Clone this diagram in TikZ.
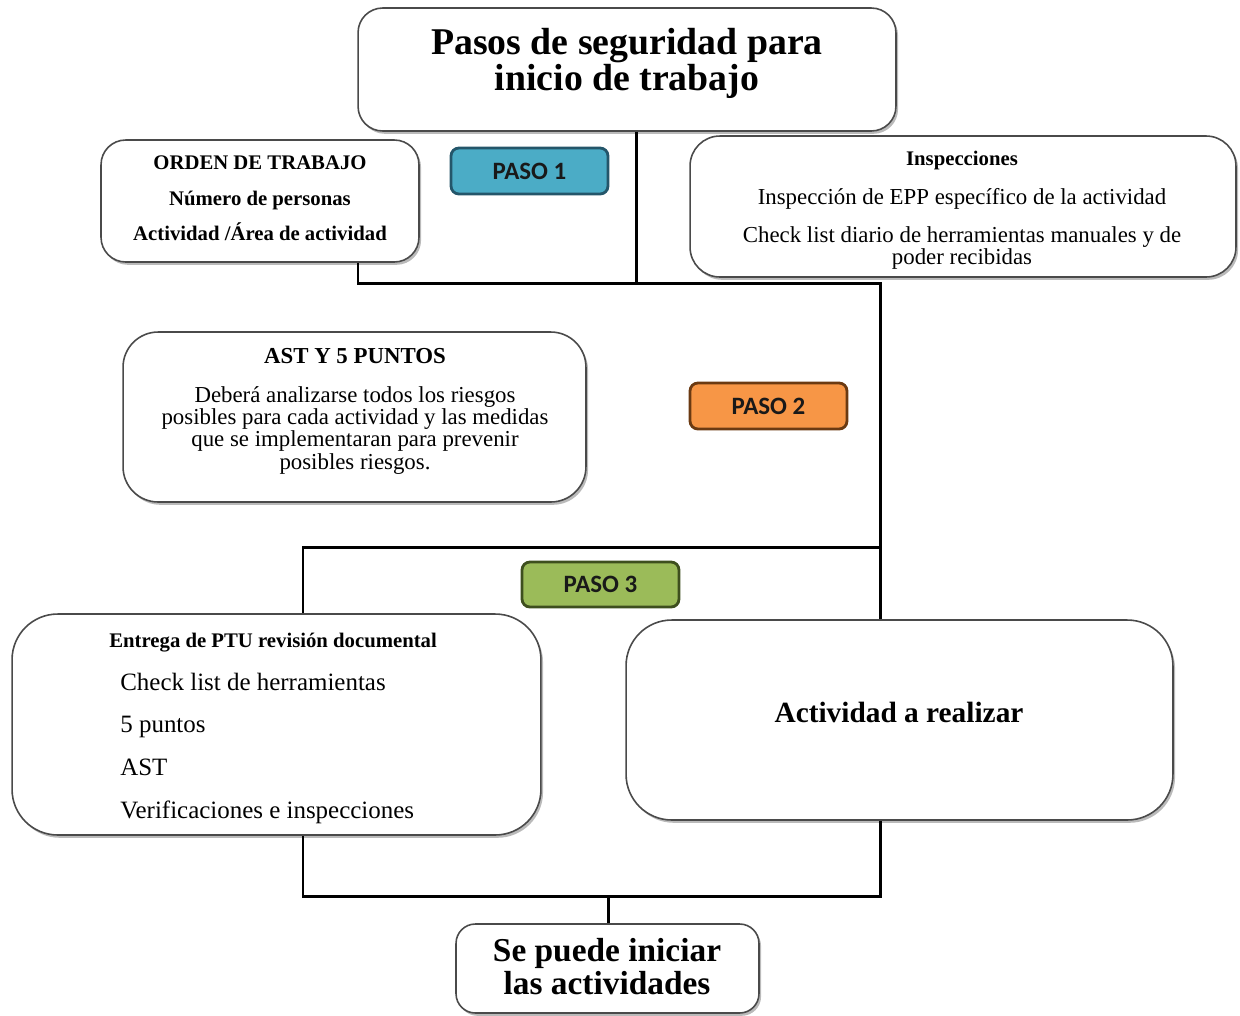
\documentclass[tikz,border=0pt]{standalone}
\usepackage{fontspec}
\setmainfont{Liberation Serif}
\newfontfamily\pasofont{Carlito}
\usetikzlibrary{shadows}
\definecolor{pasoblue}{HTML}{4BACC6}
\definecolor{pasoblueb}{HTML}{24566A}
\definecolor{pasoorange}{HTML}{F79646}
\definecolor{pasoorangeb}{HTML}{6B3A12}
\definecolor{pasogreen}{HTML}{9BBB59}
\definecolor{pasogreenb}{HTML}{3E4F1E}
\definecolor{boxline}{HTML}{4A4A4A}
\begin{document}
\begin{tikzpicture}[x=0.02cm,y=-0.02cm,
  card/.style={draw=boxline, line width=0.9pt, fill=white, rectangle,
    drop shadow={shadow xshift=1.2pt, shadow yshift=-1.6pt, opacity=0.45, fill=black!60},
    inner sep=0pt},
  pasobox/.style={rectangle, rounded corners=4.5pt, line width=1.6pt, inner sep=0pt,
    minimum width=3.14cm, minimum height=0.92cm,
    font=\pasofont\bfseries\fontsize{14.2}{16}\selectfont, text=black!90},
  tx/.style={anchor=mid, inner sep=0pt},
  bA/.style={tx, font=\bfseries\fontsize{21.5}{22}\selectfont},
  bS/.style={tx, font=\bfseries\fontsize{11.8}{13}\selectfont},
  rS/.style={tx, font=\fontsize{13}{14}\selectfont},
  bM/.style={tx, font=\bfseries\fontsize{13}{14}\selectfont},
  rL/.style={tx, anchor=mid west, font=\fontsize{14.2}{16}\selectfont},
  link/.style={line width=1.7pt, black}
]
\useasboundingbox (0,0) rectangle (1240,1015);

% boxes
\node[card, rounded corners=14pt, minimum width=10.76cm, minimum height=2.46cm] (title) at (627,69.5) {};
\node[card, rounded corners=14pt, minimum width=6.36cm, minimum height=2.44cm] (orden) at (260,201) {};
\node[card, rounded corners=17pt, minimum width=10.92cm, minimum height=2.82cm] (insp) at (963,206.5) {};
\node[card, rounded corners=20pt, minimum width=9.26cm, minimum height=3.4cm] (ast) at (354.5,417) {};
\node[card, rounded corners=26pt, minimum width=10.58cm, minimum height=4.42cm] (entrega) at (276.5,724.5) {};
\node[card, rounded corners=26pt, minimum width=10.94cm, minimum height=4.0cm] (activ) at (899.5,720) {};
\node[card, rounded corners=11pt, minimum width=6.06cm, minimum height=1.78cm] (final) at (607.5,968.5) {};

\node[pasobox, fill=pasoblue, draw=pasoblueb] (paso1) at (529.5,171) {PASO 1};
\node[pasobox, fill=pasoorange, draw=pasoorangeb] (paso2) at (768.5,406) {PASO 2};
\node[pasobox, fill=pasogreen, draw=pasogreenb, minimum height=0.9cm] (paso3) at (600.5,584.5) {PASO 3};

% texts
\node[bA] (t1) at (627,50) {Pasos de seguridad para};
\node[bA] (t2) at (627,86) {inicio de trabajo};

\node[bS] (o1) at (260,165) {ORDEN DE TRABAJO};
\node[bS] (o2) at (260,201) {Número de personas};
\node[bS] (o3) at (260,236) {Actividad /Área de actividad};

\node[bS] (i1) at (962,161) {Inspecciones};
\node[rS] (i2) at (962,200) {Inspección de EPP específico de la actividad};
\node[rS] (i3) at (962,238) {Check list diario de herramientas manuales y de};
\node[rS] (i4) at (962,260) {poder recibidas};

\node[bM] (a1) at (355,359) {AST Y 5 PUNTOS};
\node[rS] (a2) at (355,398) {Deberá analizarse todos los riesgos};
\node[rS] (a3) at (355,420) {posibles para cada actividad y las medidas};
\node[rS] (a4) at (355,442) {que se implementaran para prevenir};
\node[rS] (a5) at (355,465) {posibles riesgos.};

\node[bS, anchor=mid west] (e1) at (109,643) {Entrega de PTU revisión documental};
\node[rL] (e2) at (120,686) {Check list de herramientas};
\node[rL] (e3) at (120,728) {5 puntos};
\node[rL] (e4) at (120,771) {AST};
\node[rL] (e5) at (120,814) {Verificaciones e inspecciones};

\node[tx, font=\bfseries\fontsize{16.7}{18}\selectfont] (act) at (899,718) {Actividad a realizar};

\node[tx, font=\bfseries\fontsize{19}{20}\selectfont] (f1) at (607,957) {Se puede iniciar};
\node[tx, font=\bfseries\fontsize{19}{20}\selectfont] (f2) at (607,990) {las actividades};

% junction coordinates
\coordinate (j1) at (636,283);
\coordinate (j2) at (880,283);
\coordinate (j3) at (880,547);
\coordinate (j4) at (303,547);
\coordinate (j5) at (303,896);
\coordinate (j6) at (880,896);
\coordinate (j7) at (608,896);

% connectors
\draw[link] (title.south -| j1) -- (j1);
\draw[link] (orden.south -| 358,0) |- (j2) -- (j3);
\draw[link] (j3) -- (activ.north -| j3);
\draw[link] (j3) -- (j4) -- (entrega.north -| j4);
\draw[link] (entrega.south -| j5) -- (j5) -- (j6) -- (activ.south -| j6);
\draw[link] (j7) -- (final.north -| j7);
\end{tikzpicture}
\end{document}
